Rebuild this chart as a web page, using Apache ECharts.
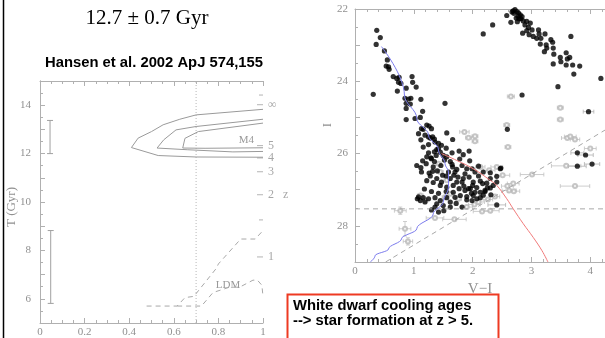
<!DOCTYPE html>
<html>
<head>
<meta charset="utf-8">
<script src="https://cdn.jsdelivr.net/npm/echarts@6/dist/echarts.min.js"></script>
<style>
html, body { margin: 0; padding: 0; background: #fff; }
#main { width: 605px; height: 338px; }
</style>
</head>
<body>
<div id="main"></div>
<script>
// ---- left panel: age T (Gyr) vs fraction ----
var contourOuter = [[1,13.83],[0.70,13.6],[0.627,13.42],[0.552,13.19],[0.5,12.91],[0.44,12.64],[0.41,12.25],[0.53,11.92],[0.70,11.86],[1,11.85]];
var contourMid = [[1,13.42],[0.70,13.12],[0.61,12.98],[0.555,12.57],[0.525,12.23],[0.66,12.16],[0.865,12.07],[1,12.09]];
var contourInner = [[1,13.26],[0.71,12.91],[0.65,12.63],[0.64,12.23],[0.74,12.22],[1,12.24]];
var ldmUpper = [[0.478,5.7],[0.615,5.7],[0.65,6.05],[0.69,6.1],[0.79,7.25],[0.80,7.44],[0.90,8.47],[0.965,8.47],[1,8.82]];
var ldmLower = [[0.615,5.7],[0.724,5.7],[0.776,6.26],[0.85,6.48],[0.895,6.48],[0.955,6.77],[0.975,6.77],[0.995,6.56],[1,6.1]];
var ageBars = [[0.045,12.0,13.37],[0.048,5.81,8.82]];
var zTicks = [[1,14.02,'∞'],[1,12.33,'5'],[1,11.82,'4'],[1,11.25,'3'],[1,10.3,'2   z'],[1,7.73,'1']];
var zMinor = [[1,14.42],[1,9.26]];
var leftNotes = [[0.925,12.57,'M4'],[0.843,6.58,'LDM']];

// ---- right panel: I vs V-I ----
var cmdBlack = [
 [0.37,22.59],[0.43,22.79],[0.36,22.98],[0.50,23.16],[0.55,23.41],[0.53,23.58],[0.57,23.60],[0.58,23.67],[0.65,23.87],[0.71,23.92],
 [0.75,23.89],[0.74,24.03],[0.78,24.06],[0.97,23.87],[0.98,24.03],[1.04,24.16],[0.87,24.19],[0.72,24.27],[0.31,24.36],[0.85,24.47],
 [0.91,24.49],[0.95,24.47],[1.12,24.50],[0.87,24.61],[0.94,24.63],[0.87,24.75],[1.15,24.83],[1.53,24.61],[1.02,25.03],[1.11,25.00],
 [0.87,25.06],[1.13,25.31],[1.19,25.49],[1.22,25.21],[1.26,25.24],[1.30,25.31],[1.25,25.54],[1.32,25.54],[1.16,25.82],[1.36,25.68],
 [1.42,25.72],[1.56,25.43],[1.66,25.61],[1.39,25.89],[1.45,25.96],[1.25,25.98],[1.30,26.14],[1.50,26.05],[1.56,26.09],[1.65,25.98],
 [1.77,25.93],[1.84,26.03],[1.94,25.93],[1.05,26.33],[1.12,26.39],[1.21,26.28],[1.26,26.54],[1.33,26.37],[1.40,26.48],[1.46,26.33],
 [1.49,26.60],[1.59,26.51],[1.66,26.37],[1.73,26.44],[1.82,26.33],[1.90,26.42],[1.99,26.42],[2.04,26.51],[2.18,26.51],[2.47,26.42],
 [2.41,26.63],[1.39,26.69],[1.47,26.79],[1.62,26.69],[1.73,26.79],[1.84,26.69],[1.94,26.65],[2.01,26.79],[2.13,26.76],[2.24,26.82],
 [2.35,26.88],[1.56,26.93],[1.67,26.88],[1.77,26.97],[1.87,27.02],[1.96,26.97],[2.07,26.94],[2.13,27.07],[2.21,27.02],[2.01,27.16],
 [1.90,27.19],[1.79,27.16],[1.67,27.07],[1.08,27.20],[1.16,27.22],[1.25,27.25],[1.11,27.30],[1.19,27.34],[1.36,27.22],[1.45,27.30],
 [1.56,27.22],[1.62,27.34],[1.50,27.44],[1.39,27.39],[1.36,27.48],[1.30,27.56],[1.51,27.58],[1.82,27.48],[1.90,27.28],[1.99,27.30],
 [2.07,27.25],[2.13,27.22],[2.17,26.83],[2.41,26.79],[2.59,25.33],[1.13,26.51],[1.32,26.49],[1.70,27.21],[1.70,26.51],[1.82,26.79],
 [1.93,26.97],[2.04,27.07],[2.30,26.53],[2.30,26.69],[2.21,27.05],[2.31,27.14],[2.48,26.40],[1.16,25.33],[1.28,25.57],[1.35,25.60],
 [1.47,25.77],[1.42,25.86],[1.22,26.09],[1.29,26.12],
 [1.15,26.20],[1.35,26.22],[1.52,26.18],[1.62,26.22],[1.78,26.15],[1.95,26.20],[2.10,26.35],[1.28,26.62],[1.55,26.62],[1.68,26.60],
 [1.87,26.56],[2.10,26.62],[2.25,26.95],[1.45,26.88],[1.33,26.80],[1.22,26.75],[1.18,26.98],[1.30,27.05],[1.42,27.10],[1.55,27.05],
 [1.98,27.10],[2.18,27.15],[1.72,27.38],[1.62,27.48],[1.42,27.62],[1.06,27.25],[2.30,26.95],[2.00,26.88],[1.85,26.90],[1.65,26.30],
 [1.75,26.65],[1.38,26.05],[1.35,25.95],[1.55,25.85],[1.25,25.75],[1.12,25.62],[1.08,25.45],
 [2.18,22.69],[2.34,22.44],[2.58,22.18],[2.65,22.37],[2.69,22.05],[2.72,22.02],[2.75,22.07],[2.78,22.11],[2.81,22.16],[2.74,22.25],
 [2.79,22.27],[2.84,22.21],[2.86,22.33],[2.92,22.34],[2.98,22.39],[2.89,22.44],[2.95,22.51],[3.01,22.58],[2.92,22.60],[2.85,22.67],
 [2.96,22.71],[3.03,22.76],[3.12,22.58],[3.13,22.69],[3.16,22.81],[3.09,22.81],[3.23,22.69],[3.33,22.85],[3.36,22.92],[3.25,22.99],
 [3.15,22.97],[3.26,23.08],[3.22,23.18],[3.37,23.08],[3.67,22.76],[3.38,23.25],[3.49,23.34],[3.59,23.21],[3.61,23.38],[3.65,23.34],
 [3.50,23.46],[3.37,23.52],[3.59,23.55],[3.70,23.55],[3.82,23.58],[3.72,23.80],[4.18,23.92],[3.45,24.15],[2.84,24.38],[2.67,22.08],
 [2.76,22.35],[2.70,22.12],[2.77,22.20],[2.82,22.27]
];
var cmdBlackErr = [[3.97,24.84,0.09],[3.78,25.98,0.11],[3.92,26.04,0.13],[4.03,26.29,0.13],[3.78,26.35,0.15],[2.41,27.42,0.15]];
var cmdGray = [
 [2.65,24.42,0.06,0],[3.49,24.73,0.05,0],[3.49,25.06,0.05,0],[2.58,25.21,0.05,0],[2.60,25.82,0.05,0],[1.86,25.40,0.08,0],
 [1.93,25.56,0.05,0],[2.04,25.52,0.05,0],[2.04,25.66,0.05,0],[3.61,25.57,0.1,0],[3.66,25.53,0.1,0],[3.74,25.61,0.08,0],
 [4.00,25.86,0.1,0],[3.59,26.34,0.25,0],[3.01,26.58,0.2,0],[3.74,26.90,0.25,0],[2.51,26.60,0.12,0],[2.69,26.83,0.1,0],
 [2.59,26.90,0.1,0],[2.62,27.02,0.12,0],[2.70,27.04,0.1,0],[2.28,26.46,0.1,0],[2.41,26.37,0.1,0],[2.13,26.37,0.08,0],
 [0.77,27.58,0.1,0.1],[0.85,28.08,0.1,0.2],[0.90,28.43,0.08,0.1],[1.36,27.78,0.15,0],[1.69,27.82,0.2,0],[2.16,27.60,0.15,0],
 [2.30,27.58,0.15,0],[2.03,27.41,0.1,0],[2.10,27.34,0.1,0],[1.90,27.48,0.1,0],[1.42,26.28,0.05,0],[1.45,26.51,0.05,0],
 [1.56,26.74,0.05,0],[1.62,27.11,0.05,0],[1.53,27.21,0.05,0],[1.76,27.25,0.05,0],[1.11,27.16,0.05,0],[1.19,27.30,0.05,0],
 [2.26,27.27,0.08,0],[2.38,27.19,0.08,0]
];
var coolingBlue = [[0.45,23.04],[0.84,24.38],[1.05,25.03],[1.25,25.49],[1.42,25.90],[1.53,26.28],[1.59,26.51],[1.59,26.93],[1.50,27.34],[1.33,27.67],[1.05,28.08],[0.79,28.36],[0.57,28.64],[0.34,28.83],[0.26,29.0]];
var coolingRed = [[1.47,26.0],[1.73,26.19],[2.01,26.42],[2.30,26.74],[2.41,26.88],[2.58,27.25],[2.69,27.53],[2.86,27.94],[3.03,28.32],[3.18,28.69],[3.28,29.0]];
var limitFlat = [[0,27.53],[4.25,27.53]];
var limitDiag = [[0.52,29.0],[4.25,25.35]];

var axisGray = '#b0b0b0';
var textGray = '#909090';
var serif = '"Liberation Serif", "DejaVu Serif", serif';

var myChart = echarts.init(document.getElementById('main'));

function tickAxis(extra) {
    var base = {
        axisLine: {lineStyle: {color: axisGray, width: 1}},
        axisTick: {inside: true, length: 5, lineStyle: {color: axisGray}},
        minorTick: {show: true, length: 3, lineStyle: {color: axisGray}},
        splitLine: {show: false},
        axisLabel: {color: textGray, fontFamily: serif, fontSize: 11}
    };
    return Object.assign(base, extra);
}

function vBarItem(params, api) {
    var x = api.value(0);
    var lo = api.coord([x, api.value(1)]);
    var hi = api.coord([x, api.value(2)]);
    var st = {stroke: '#a0a0a0', lineWidth: 1};
    return {type: 'group', children: [
        {type: 'line', shape: {x1: lo[0], y1: lo[1], x2: hi[0], y2: hi[1]}, style: st},
        {type: 'line', shape: {x1: lo[0] - 3, y1: lo[1], x2: lo[0] + 3, y2: lo[1]}, style: st},
        {type: 'line', shape: {x1: hi[0] - 3, y1: hi[1], x2: hi[0] + 3, y2: hi[1]}, style: st}
    ]};
}

function errItem(color) {
    return function (params, api) {
        var x = api.value(0), y = api.value(1), e = api.value(2), ev = api.value(3) || 0;
        var a = api.coord([x - e, y]), b = api.coord([x + e, y]);
        var st = {stroke: color, lineWidth: 0.8};
        var kids = [
            {type: 'line', shape: {x1: a[0], y1: a[1], x2: b[0], y2: b[1]}, style: st},
            {type: 'line', shape: {x1: a[0], y1: a[1] - 2, x2: a[0], y2: a[1] + 2}, style: st},
            {type: 'line', shape: {x1: b[0], y1: b[1] - 2, x2: b[0], y2: b[1] + 2}, style: st}
        ];
        if (ev) {
            var c = api.coord([x, y - ev]), d = api.coord([x, y + ev]);
            kids.push({type: 'line', shape: {x1: c[0], y1: c[1], x2: d[0], y2: d[1]}, style: st});
            kids.push({type: 'line', shape: {x1: c[0] - 2, y1: c[1], x2: c[0] + 2, y2: c[1]}, style: st});
            kids.push({type: 'line', shape: {x1: d[0] - 2, y1: d[1], x2: d[0] + 2, y2: d[1]}, style: st});
        }
        return {type: 'group', children: kids};
    };
}

function lineSeries(data, x, y, style, extra) {
    return Object.assign({
        type: 'line', xAxisIndex: x, yAxisIndex: y, data: data,
        symbol: 'none', silent: true, lineStyle: style
    }, extra || {});
}

var contourStyle = {color: '#9a9a9a', width: 1};
var dashStyle = {color: '#a8a8a8', width: 1, type: [5, 4]};

var option = {
    animation: false,
    grid: [
        {left: 40, top: 81, width: 223, height: 242},
        {left: 355, top: 9, width: 250, height: 253}
    ],
    xAxis: [
        tickAxis({gridIndex: 0, type: 'value', min: 0, max: 1, interval: 0.2, minorTick: {show: true, splitNumber: 4, length: 3, lineStyle: {color: axisGray}}, axisLabel: {color: textGray, fontFamily: serif, fontSize: 11, margin: 4}}),
        tickAxis({gridIndex: 0, type: 'value', position: 'top', min: 0, max: 1, interval: 0.2, minorTick: {show: true, splitNumber: 4, length: 3, lineStyle: {color: axisGray}}, axisLabel: {show: false}}),
        tickAxis({gridIndex: 1, type: 'value', min: 0, max: 4.25, interval: 1, minorTick: {show: true, splitNumber: 5, length: 3, lineStyle: {color: axisGray}},
            axisLabel: {color: textGray, fontFamily: serif, fontSize: 11, margin: 4, showMaxLabel: false},
            name: 'V\u2212I', nameLocation: 'middle', nameGap: 11, nameTextStyle: {color: textGray, fontFamily: serif, fontSize: 15}}),
        tickAxis({gridIndex: 1, type: 'value', position: 'top', min: 0, max: 4.25, interval: 1, minorTick: {show: true, splitNumber: 5, length: 3, lineStyle: {color: axisGray}}, axisLabel: {show: false}})
    ],
    yAxis: [
        tickAxis({gridIndex: 0, type: 'value', min: 5, max: 15, interval: 1, minorTick: {show: true, splitNumber: 2, length: 3, lineStyle: {color: axisGray}},
            axisLabel: {color: textGray, fontFamily: serif, fontSize: 11, margin: 9, formatter: function (v) { return (v % 2 === 0 && v >= 6 && v <= 14) ? v : ''; }}}),
        {gridIndex: 0, type: 'value', position: 'right', min: 5, max: 15, axisLine: {show: true, lineStyle: {color: axisGray}}, axisTick: {show: false}, axisLabel: {show: false}, splitLine: {show: false}},
        tickAxis({gridIndex: 1, type: 'value', inverse: true, min: 22, max: 29, interval: 1, minorTick: {show: true, splitNumber: 2, length: 3, lineStyle: {color: axisGray}},
            axisLabel: {color: textGray, fontFamily: serif, fontSize: 11, margin: 7, formatter: function (v) { return v % 2 === 0 ? v : ''; }}})
    ],
    series: [
        lineSeries([[0.7, 5], [0.7, 15]], 0, 0, {color: '#b8b8b8', width: 1, type: [1, 2]}),
        lineSeries(contourOuter, 0, 0, contourStyle),
        lineSeries(contourMid, 0, 0, contourStyle),
        lineSeries(contourInner, 0, 0, contourStyle),
        lineSeries(ldmUpper, 0, 0, dashStyle),
        lineSeries(ldmLower, 0, 0, dashStyle),
        {type: 'custom', xAxisIndex: 0, yAxisIndex: 0, data: ageBars, renderItem: vBarItem, silent: true},
        {type: 'scatter', xAxisIndex: 0, yAxisIndex: 0, data: zTicks, symbol: 'rect', symbolSize: [6, 1], symbolOffset: [-3, 0],
            itemStyle: {color: '#a0a0a0'}, silent: true,
            label: {show: true, position: 'right', distance: 5, color: textGray, fontFamily: serif, fontSize: 12, formatter: function (p) { return p.value[2]; }}},
        {type: 'scatter', xAxisIndex: 0, yAxisIndex: 0, data: zMinor, symbol: 'rect', symbolSize: [4, 1], symbolOffset: [-2, 0], itemStyle: {color: '#a0a0a0'}, silent: true},
        {type: 'scatter', xAxisIndex: 0, yAxisIndex: 0, data: leftNotes, symbolSize: 0, silent: true,
            label: {show: true, position: 'inside', color: '#808080', fontFamily: serif, fontSize: 11, formatter: function (p) { return p.value[2]; }}},

        lineSeries(limitFlat, 2, 2, dashStyle),
        lineSeries(limitDiag, 2, 2, dashStyle),
        {type: 'custom', xAxisIndex: 2, yAxisIndex: 2, data: cmdGray, renderItem: errItem('#c0c0c0'), silent: true},
        {type: 'scatter', xAxisIndex: 2, yAxisIndex: 2, data: cmdGray, symbol: 'emptyCircle', symbolSize: 4,
            itemStyle: {color: '#b8b8b8', borderColor: '#b8b8b8', borderWidth: 0.7}, silent: true},
        lineSeries(coolingBlue, 2, 2, {color: '#7c7cec', width: 1}, {smooth: 0.4, smoothMonotone: 'y'}),
        lineSeries(coolingRed, 2, 2, {color: '#f07a7a', width: 1}, {smooth: 0.4}),
        {type: 'custom', xAxisIndex: 2, yAxisIndex: 2, data: cmdBlackErr, renderItem: errItem('#b0b0b0'), silent: true},
        {type: 'scatter', xAxisIndex: 2, yAxisIndex: 2, data: cmdBlack.concat(cmdBlackErr.map(function (d) { return [d[0], d[1]]; })),
            symbolSize: 5.2, itemStyle: {color: '#000'}, silent: true}
    ],
    graphic: [
        {type: 'line', shape: {x1: 3.5, y1: 0, x2: 3.5, y2: 338}, style: {stroke: '#000', lineWidth: 1.5}},
        {type: 'text', x: 147, y: 18, style: {text: '12.7 \u00b1 0.7 Gyr', fill: '#000', font: '21px "Liberation Serif"', align: 'center', verticalAlign: 'middle'}},
        {type: 'text', x: 154, y: 63, style: {text: 'Hansen et al. 2002 ApJ 574,155', fill: '#000', font: 'bold 14.8px "Liberation Sans"', align: 'center', verticalAlign: 'middle'}},
        {type: 'text', x: 12, y: 207, rotation: Math.PI / 2, style: {text: 'T (Gyr)', fill: textGray, font: '13px "Liberation Serif"', align: 'center', verticalAlign: 'middle'}},
        {type: 'text', x: 328, y: 125, rotation: Math.PI / 2, style: {text: 'I', fill: textGray, font: '13px "Liberation Serif"', align: 'center', verticalAlign: 'middle'}},
        {type: 'rect', shape: {x: 287.5, y: 294.5, width: 211, height: 46}, style: {fill: '#fff', stroke: '#ee3a22', lineWidth: 2}},
        {type: 'text', x: 293, y: 306, style: {text: 'White dwarf cooling ages', fill: '#000', font: 'bold 14.8px "Liberation Sans"', verticalAlign: 'middle'}},
        {type: 'text', x: 293, y: 321, style: {text: '--> star formation at z > 5.', fill: '#000', font: 'bold 14.8px "Liberation Sans"', verticalAlign: 'middle'}}
    ]
};
myChart.setOption(option);
</script>
</body>
</html>
